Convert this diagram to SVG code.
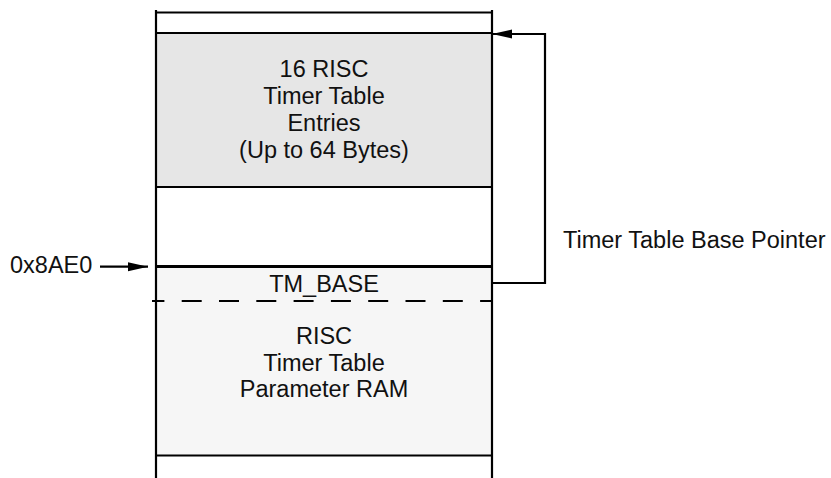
<svg xmlns="http://www.w3.org/2000/svg" width="831" height="478" viewBox="0 0 831 478">
<style>
text{font-family:"Liberation Sans",Arial,Helvetica,sans-serif;font-size:23.5px;fill:#111}
.c{text-anchor:middle}
.ln{stroke:#000;stroke-width:2.2;fill:none}
</style>
<defs>
<marker id="ah" markerWidth="20" markerHeight="10" refX="20" refY="5" orient="auto" markerUnits="userSpaceOnUse">
<path d="M0,0.5 L20,5 L0,9.5 Z" fill="#000"/>
</marker>
</defs>
<rect width="831" height="478" fill="#fff"/>
<g id="memory-map">
<rect x="156" y="33" width="336" height="154" fill="#e6e6e6"/>
<rect x="156" y="266" width="336" height="189" fill="#f6f6f6"/>
<line class="ln" x1="156" y1="10" x2="156" y2="478"/>
<line class="ln" x1="492" y1="10" x2="492" y2="478"/>
<line class="ln" x1="156" y1="12.5" x2="492" y2="12.5"/>
<line class="ln" x1="156" y1="33" x2="492" y2="33"/>
<line class="ln" x1="156" y1="187" x2="492" y2="187"/>
<line class="ln" x1="156" y1="266.5" x2="492" y2="266.5" style="stroke-width:2.8"/>
<line class="ln" x1="152" y1="301" x2="492" y2="301" stroke-dasharray="20 17.3" stroke-dashoffset="7.6"/>
<line class="ln" x1="156" y1="455.5" x2="492" y2="455.5"/>
</g>
<g id="timer-entries">
<text class="c" x="324" y="77">16 RISC</text>
<text class="c" x="324" y="104">Timer Table</text>
<text class="c" x="324" y="131">Entries</text>
<text class="c" x="324" y="158">(Up to 64 Bytes)</text>
</g>
<g id="tm-base">
<text class="c" x="324" y="291.5">TM_BASE</text>
</g>
<g id="param-ram">
<text class="c" x="324" y="344">RISC</text>
<text class="c" x="324" y="370.5">Timer Table</text>
<text class="c" x="324" y="397">Parameter RAM</text>
</g>
<g id="addr-label">
<text x="10" y="273">0x8AE0</text>
</g>
<g id="pointer-label">
<text x="563" y="248">Timer Table Base Pointer</text>
</g>
<g id="connectors">
<path class="ln" d="M100,266.7 H148" marker-end="url(#ah)"/>
<path class="ln" d="M492,283 H545 V34 H492" marker-end="url(#ah)"/>
</g>
</svg>
